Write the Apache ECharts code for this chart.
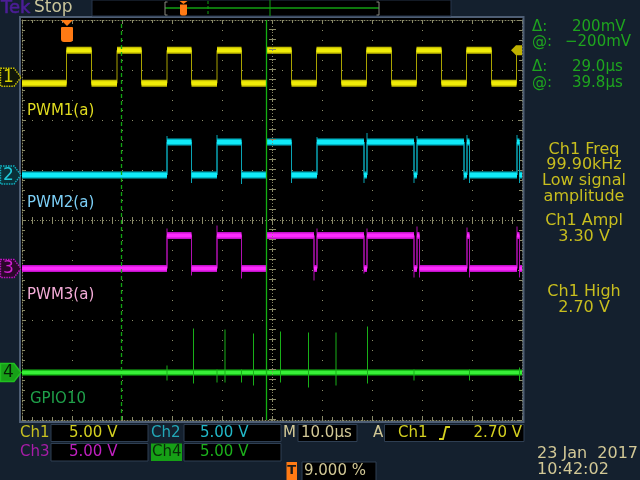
<!DOCTYPE html>
<html>
<head>
<meta charset="utf-8">
<script src="https://cdn.jsdelivr.net/npm/echarts@6.0.0/dist/echarts.min.js"></script>
<style>
html,body{margin:0;padding:0;background:#14202e;}
#main{width:640px;height:480px;}
</style>
</head>
<body>
<div id="main"></div>
<script>
// screen time in us from left edge (10 us/div, trigger at 9%), levels in volts (5 V/div)
var timeMax = 100;
var trigTime = 9.0;
var cursorA = 19.8, cursorB = 48.8;

var ch1Pos = 2.854, ch2Pos = 0.9, ch3Pos = -0.97, ch4Pos = -3.05;   // ground position, divisions
var ch1TrigLevel = 2.70;

var ch1Time = [0, 8.9, 13.9, 19.0, 23.9, 29.0, 33.9, 39.0, 43.9, 48.9, 53.9, 58.9, 63.9, 68.9, 73.9, 78.9, 83.9, 88.9, 93.9, 98.9];
var ch1Volt = [-0.6, 2.7, -0.6, 2.7, -0.6, 2.7, -0.6, 2.7, -0.6, 2.7, -0.6, 2.7, -0.6, 2.7, -0.6, 2.7, -0.6, 2.7, -0.6, 2.7];

var ch2Time = [0, 29.0, 33.9, 39.0, 43.9, 48.9, 53.9, 59.0, 68.4, 69.0, 78.4, 79.0, 88.4, 89.0, 89.5, 99.0, 99.5];
var ch2Volt = [0, 3.3, 0, 3.3, 0, 3.3, 0, 3.3, 0, 3.3, 0, 3.3, 0, 3.3, 0, 3.3, 0];
var ch2SpikeTime = [29.0, 33.9, 39.0, 43.9, 48.9, 53.9, 59.0, 68.4, 69.0, 78.4, 79.0, 88.4, 89.0, 89.5, 99.0, 99.5];
var ch2SpikeLow  = [0, -0.8, 0, -0.9, 0, -0.8, 0, -0.8, 0, -0.8, 0, -0.5, 0, -0.8, 0, -0.8];
var ch2SpikeHigh = [3.9, 3.3, 4.0, 3.3, 4.1, 3.3, 3.8, 3.3, 4.2, 3.3, 3.9, 3.3, 4.0, 3.3, 4.0, 3.3];

var ch3Time = [0, 29.0, 33.9, 39.0, 43.9, 48.9, 58.4, 59.0, 68.4, 69.0, 78.4, 79.0, 79.5, 89.0, 89.5, 99.0, 99.5];
var ch3Volt = [0, 3.3, 0, 3.3, 0, 3.3, 0, 3.3, 0, 3.3, 0, 3.3, 0, 3.3, 0, 3.3, 0];
var ch3SpikeTime = [29.0, 33.9, 39.0, 43.9, 58.4, 59.0, 68.4, 69.0, 78.4, 79.0, 79.5, 89.0, 89.5, 99.0, 99.5];
var ch3SpikeLow  = [0, -0.7, 0, -1.0, -1.2, 0, -0.5, 0, -0.9, 0, -0.9, 0, -0.9, 0, -0.9];
var ch3SpikeHigh = [4.0, 3.3, 4.3, 3.3, 3.3, 4.0, 3.3, 4.0, 3.3, 4.2, 3.3, 4.1, 3.3, 4.2, 3.3];

var ch4Time = [0];
var ch4Volt = [0];
var ch4SpikeTime = [29.0, 34.3, 39.0, 40.6, 43.9, 46.3, 48.9, 51.7, 57.3, 62.8, 69.1, 78.4, 89.5, 99.5];
var ch4SpikeLow  = [-0.8, -1.1, -1.0, -1.0, -1.0, -1.3, -0.8, -1.0, -1.5, -1.3, -1.1, -0.8, -0.8, -0.8];
var ch4SpikeHigh = [0.7, 4.4, 0.3, 4.3, 0.3, 3.9, 0.7, 4.1, 4.0, 4.0, 4.6, 0.3, 0.3, 0.5];

var FONT = '"DejaVu Sans"';
var GRAT = '#8a8a68';

function toDiv(pos, v){ return pos + v / 5; }

// full trace incl. edges
function stepLine(times, volts, pos){
	var pts = [];
	for(var i=0;i<times.length;i++){
		var t1 = i+1<times.length ? times[i+1] : timeMax;
		var d = toDiv(pos, volts[i]);
		pts.push([times[i], d], [t1, d]);
	}
	return pts;
}
// flat levels only (thick noisy band)
function levelSegs(times, volts, pos){
	var pts = [];
	for(var i=0;i<times.length;i++){
		var t1 = i+1<times.length ? times[i+1] : timeMax;
		var d = toDiv(pos, volts[i]);
		pts.push([times[i], d], [t1, d], [t1, '-']);
	}
	return pts;
}
function spikeSegs(times, lo, hi, pos){
	var pts = [];
	for(var i=0;i<times.length;i++){
		pts.push([times[i], toDiv(pos, lo[i])], [times[i], toDiv(pos, hi[i])], [times[i], '-']);
	}
	return pts;
}
function trace(data, color, width, z, dash){
	return {type:'line', data:data, symbol:'none', silent:true, animation:false, connectNulls:false, z:z,
		lineStyle:{color:color, width:width, cap:'butt', join:'miter', type:dash||'solid'}};
}
function txt(x, y, s, color, size, align, weight){
	return {type:'text', x:x, y:y, silent:true, z:60,
		style:{text:s, fill:color, font:(weight||'normal')+' '+size+'px '+FONT, textAlign:align||'left', textVerticalAlign:'middle'}};
}
function box(x, y, w, h, fill, stroke){
	return {type:'rect', silent:true, z:55, shape:{x:x, y:y, width:w, height:h},
		style:{fill:fill, stroke:stroke||null, lineWidth:1}};
}
function axisCfg(pos, min, max, split){
	return {type:'value', min:min, max:max, interval:(max-min)/(pos=='left'||pos=='right'?8:10), position:pos,
		axisLine:{onZero:false, lineStyle:{color:GRAT, type:[1,2], width:1}},
		axisTick:{inside:true, length:4, lineStyle:{color:GRAT}},
		minorTick:{show:true, splitNumber:5, length:3, lineStyle:{color:GRAT}},
		axisLabel:{show:false},
		splitLine:{show:split, lineStyle:{color:GRAT, type:[1,9], width:1}}};
}
// noisy band: darker fringe, bright core
function band(times, volts, pos, dark, bright, w){
	var d = levelSegs(times, volts, pos);
	return [
		trace(d, dark, w+1, 4),
		trace(d, bright, w-2, 4)
	];
}

var chart = echarts.init(document.getElementById('main'));

var series = [
	{type:'line', data:[[0,'-']], z:1, silent:true, symbol:'none',
		markLine:{symbol:['none','none'], silent:true, animation:false, label:{show:false},
			data:[
				{xAxis:50, lineStyle:{color:GRAT, type:[1,2], width:1}},
				{xAxis:50, lineStyle:{color:GRAT, type:[1,9], width:7}},
				{yAxis:0, lineStyle:{color:GRAT, type:[1,2], width:1}},
				{yAxis:0, lineStyle:{color:GRAT, type:[1,9], width:7}}
			]}},
	trace(stepLine(ch1Time, ch1Volt, ch1Pos), '#a8a200', 1, 3),
	trace(stepLine(ch2Time, ch2Volt, ch2Pos), '#0aa4b4', 1, 3),
	trace(spikeSegs(ch2SpikeTime, ch2SpikeLow, ch2SpikeHigh, ch2Pos), '#0aa4b4', 1, 3),
	trace(stepLine(ch3Time, ch3Volt, ch3Pos), '#b010b0', 1, 3),
	trace(spikeSegs(ch3SpikeTime, ch3SpikeLow, ch3SpikeHigh, ch3Pos), '#b010b0', 1, 3)
];
series = series.concat(
	band(ch1Time, ch1Volt, ch1Pos, '#c4be00', '#f0ec08', 6),
	band(ch2Time, ch2Volt, ch2Pos, '#00b8c8', '#10eaf8', 6),
	band(ch3Time, ch3Volt, ch3Pos, '#c410cc', '#fc2cfc', 6),
	band(ch4Time, ch4Volt, ch4Pos, '#18c018', '#38f038', 5)
);
series.push(
	trace(spikeSegs(ch4SpikeTime, ch4SpikeLow, ch4SpikeHigh, ch4Pos), '#18b018', 1, 5),
	{type:'line', data:[[0,'-']], z:6, silent:true, symbol:'none',
		markLine:{symbol:['none','none'], silent:true, animation:false, label:{show:false},
			data:[
				{xAxis:cursorA, lineStyle:{color:'#12a412', type:[4,3], width:1.3}},
				{xAxis:cursorB, lineStyle:{color:'#12b012', type:'solid', width:1.3}}
			]}}
);

chart.setOption({
	backgroundColor:'#14202e',
	animation:false,
	grid:{left:22, top:20, width:500, height:400, show:false},
	xAxis:[axisCfg('bottom', 0, timeMax, true), axisCfg('top', 0, timeMax, false)],
	yAxis:[axisCfg('left', -4, 4, true), axisCfg('right', -4, 4, false)],
	series:series
});

function px(t, d){ return chart.convertToPixel({xAxisIndex:0, yAxisIndex:0}, [t, d]); }

function chMarker(pos, label, fill, stroke, color, dash){
	var y = px(0, pos)[1];
	return [
		{type:'polygon', silent:true, z:58, shape:{points:[[0.5,y-9],[14,y-9],[21,y],[14,y+9],[0.5,y+9]]},
			style:{fill:fill, stroke:stroke, lineWidth:1.4, lineDash:dash?[1.5,1]:null}},
		txt(8.5, y+0.5, label, color, 17, 'center')
	];
}

var trigX = px(trigTime, 0)[0];
var trigY = px(0, toDiv(ch1Pos, ch1TrigLevel))[1];

var g = [
	{type:'rect', silent:true, z:-10, shape:{x:20, y:17, width:503.5, height:405}, style:{fill:'#000'}},
	{type:'rect', silent:true, z:50, shape:{x:20, y:17, width:503.5, height:405}, style:{fill:null, stroke:'#4e5e74', lineWidth:2}},
	// header
	{type:'text', x:1, y:8, silent:true, z:60, style:{text:'Tek', fill:'#4b1e96', stroke:'#4b1e96', lineWidth:0.6, font:'18px '+FONT, textVerticalAlign:'middle'}},
	txt(34, 8, 'Stop', '#c8c49a', 17),
	box(92, 0, 359, 16, '#000', '#26354a'),
	{type:'polyline', silent:true, z:60, shape:{points:[[165,8],[379,8]]}, style:{stroke:'#12a012', lineWidth:1.5}},
	{type:'polyline', silent:true, z:60, shape:{points:[[167.5,2],[165,2],[165,15],[167.5,15]]}, style:{stroke:'#8a8a80', lineWidth:1}},
	{type:'polyline', silent:true, z:60, shape:{points:[[376.5,2],[379,2],[379,15],[376.5,15]]}, style:{stroke:'#8a8a80', lineWidth:1}},
	{type:'polyline', silent:true, z:60, shape:{points:[[208,1],[208,16]]}, style:{stroke:'#12a012', lineWidth:1, lineDash:[3,2]}},
	{type:'polyline', silent:true, z:60, shape:{points:[[270,0],[270,16]]}, style:{stroke:'#12a012', lineWidth:1}},
	{type:'polygon', silent:true, z:61, shape:{points:[[179.5,1],[187.5,1],[183.5,4]]}, style:{fill:'#ff7a14'}},
	{type:'rect', silent:true, z:61, shape:{x:180, y:4.5, width:7, height:11, r:[0,0,2,2]}, style:{fill:'#ff7a14'}},
	txt(183.5, 10, 'T', '#f4f4f4', 9, 'center', 'bold'),
	// trigger position marker
	{type:'polygon', silent:true, z:61, shape:{points:[[trigX-6,20],[trigX+6,20],[trigX,26]]}, style:{fill:'#ff7a14'}},
	{type:'rect', silent:true, z:61, shape:{x:trigX-6, y:27, width:12, height:15, r:[1,1,3,3]}, style:{fill:'#ff7a14'}},
	txt(trigX, 34.5, 'T', '#f8f8f8', 13, 'center', 'bold'),
	// trigger level arrow
	{type:'polygon', silent:true, z:61, shape:{points:[[511,trigY],[516,trigY-5],[522,trigY-5],[522,trigY+5],[516,trigY+5]]}, style:{fill:'#c0b200'}},
	// trace labels
	txt(27, 111, 'PWM1(a)', '#e0dc20', 15),
	txt(27, 203, 'PWM2(a)', '#7ccff6', 15),
	txt(27, 295, 'PWM3(a)', '#f4acd8', 15),
	txt(30, 399, 'GPIO10', '#1fa04a', 15),
	// cursor readouts
	txt(532, 27, 'Δ:', '#1ea51e', 15),
	txt(572, 27, '200mV', '#1ea51e', 15),
	txt(532, 42, '@:', '#1ea51e', 15),
	txt(565, 42, '−200mV', '#1ea51e', 15),
	txt(532, 67, 'Δ:', '#1ea51e', 15),
	txt(572, 67, '29.0µs', '#1ea51e', 15),
	txt(532, 83, '@:', '#1ea51e', 15),
	txt(572, 83, '39.8µs', '#1ea51e', 15),
	// measurements
	txt(584, 150, 'Ch1 Freq', '#c8be1e', 16, 'center'),
	txt(584, 165, '99.90kHz', '#c8be1e', 16, 'center'),
	txt(584, 181, 'Low signal', '#c8be1e', 16, 'center'),
	txt(584, 197, 'amplitude', '#c8be1e', 16, 'center'),
	txt(584, 221, 'Ch1 Ampl', '#c8be1e', 16, 'center'),
	txt(584, 237, '3.30 V', '#c8be1e', 16, 'center'),
	txt(584, 292, 'Ch1 High', '#c8be1e', 16, 'center'),
	txt(584, 308, '2.70 V', '#c8be1e', 16, 'center'),
	// bottom readout
	box(51, 424.5, 97, 17, '#000', '#2e3e52'),
	box(184, 424.5, 97, 17, '#000', '#2e3e52'),
	box(298, 424.5, 59, 17, '#000', '#2e3e52'),
	box(384.5, 424.5, 139.5, 17, '#000', '#2e3e52'),
	box(51, 443.5, 97, 17.5, '#000', '#2e3e52'),
	box(184, 443.5, 97, 17.5, '#000', '#2e3e52'),
	box(151, 443.5, 31, 17.5, '#16a016', null),
	box(302, 462, 74, 20, '#000', '#2e3e52'),
	box(286.5, 462, 10.5, 20, '#ff7a14', null),
	txt(20, 433, 'Ch1', '#c8c020', 15),
	txt(69, 433, '5.00 V', '#d4d020', 15),
	txt(151, 433, 'Ch2', '#22a8b8', 15),
	txt(200, 433, '5.00 V', '#22b8c8', 15),
	txt(283, 433, 'M', '#d2c896', 15),
	txt(301, 433, '10.0µs', '#d2c896', 15),
	txt(373, 433, 'A', '#d2c896', 15),
	txt(398, 433, 'Ch1', '#d4d020', 15),
	{type:'polyline', silent:true, z:60, shape:{points:[[439,439],[443,439],[446,427],[450,427]]}, style:{stroke:'#d4d020', lineWidth:1.8}},
	txt(522, 433, '2.70 V', '#d4d020', 15, 'right'),
	txt(20, 452, 'Ch3', '#a81ca8', 15),
	txt(69, 452, '5.00 V', '#c020c0', 15),
	txt(152, 452, 'Ch4', '#0a2a0a', 15),
	txt(200, 452, '5.00 V', '#1cb01c', 15),
	txt(291.75, 471, 'T', '#1a1a1a', 13, 'center', 'bold'),
	txt(304, 471, '9.000 %', '#d2c896', 15),
	txt(537, 454, '23 Jan', '#d2c896', 16),
	txt(638, 454, '2017', '#d2c896', 16, 'right'),
	txt(537, 470, '10:42:02', '#d2c896', 16)
];

g = g.concat(
	chMarker(ch1Pos, '1', '#10160a', '#c8c000', '#d4d000', true),
	chMarker(ch2Pos, '2', '#0a3038', '#10b0c0', '#20c8d8', true),
	chMarker(ch3Pos, '3', '#2a082a', '#c010c0', '#d020d0', true),
	chMarker(ch4Pos, '4', '#18a018', '#20c020', '#062006', false)
);

chart.setOption({graphic:{elements:g}});
</script>
</body>
</html>
